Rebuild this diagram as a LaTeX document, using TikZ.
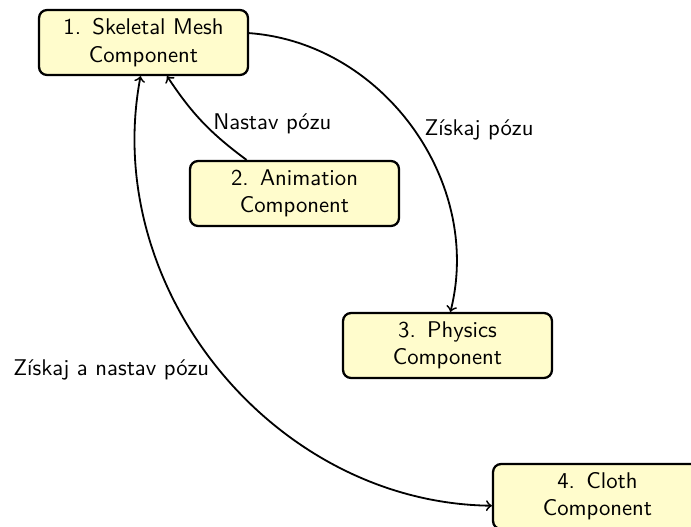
\documentclass[tikz,border=0pt]{standalone}
\begin{document}
\begin{tikzpicture}[x=0.4405pt, y=-0.4405pt,
  comp/.style={draw=black, line width=1pt, fill=yellow!20, rounded corners=3.5pt,
    text width=3cm, align=center, minimum height=28.6pt, font=\sffamily},
  link/.style={thick, ->},
  lbl/.style={font=\sffamily}]
\useasboundingbox (0,0) rectangle (691,526);

% components, laid out on a diagonal
\node[comp] (n1) at (143.5,42.5)  {1. Skeletal Mesh\\Component};
\node[comp] (n2) at (294.5,193.5) {2. Animation\\Component};
\node[comp] (n3) at (447.5,345.5) {3. Physics\\Component};
\node[comp] (n4) at (597.5,496.5) {4. Cloth\\Component};

% pose exchange
\draw[link] (n1) to[bend left=50]
  node[lbl, pos=0.53, right, xshift=-1.2pt, yshift=3pt] {Získaj pózu} (n3);
\draw[link] (n2) to[bend left=10]
  node[lbl, right, xshift=1pt, yshift=-1pt] {Nastav pózu} (n1);
\draw[link, <->] (n1) to[bend right=50]
  node[lbl, pos=0.48, left, xshift=2.6pt, yshift=-4.4pt] {Získaj a nastav pózu} (n4);
\end{tikzpicture}
\end{document}
